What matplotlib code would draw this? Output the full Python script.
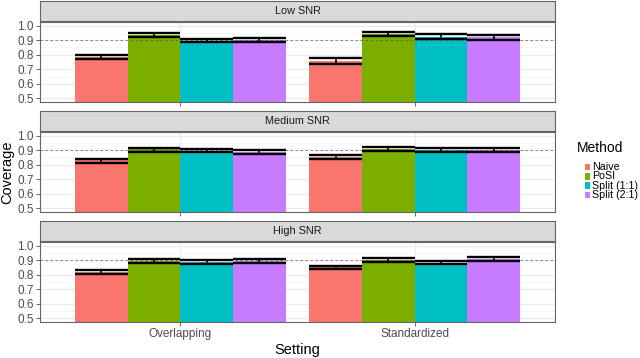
import matplotlib
matplotlib.use("Agg")
import matplotlib.pyplot as plt
import numpy as np
from matplotlib.patches import Rectangle

plt.rcParams['font.family'] = ['Liberation Sans', 'DejaVu Sans']

settings = ["Overlapping", "Standardized"]
methods = ["Naive", "PoSI", "Split (1:1)", "Split (2:1)"]
colors = ["#F8766D", "#7CAE00", "#00BFC4", "#C77CFF"]
panels = ["Low SNR", "Medium SNR", "High SNR"]

# coverage [panel][setting][method]
low_cov = [[0.785, 0.935, 0.897, 0.900], [0.755, 0.940, 0.923, 0.919]]
low_lo = [[0.773, 0.921, 0.887, 0.887], [0.736, 0.926, 0.905, 0.901]]
low_hi = [[0.797, 0.946, 0.908, 0.914], [0.775, 0.953, 0.941, 0.937]]

med_cov = [[0.830, 0.905, 0.897, 0.890], [0.853, 0.910, 0.900, 0.898]]
med_lo = [[0.815, 0.890, 0.885, 0.876], [0.838, 0.894, 0.887, 0.885]]
med_hi = [[0.842, 0.917, 0.910, 0.903], [0.869, 0.923, 0.914, 0.912]]

high_cov = [[0.818, 0.895, 0.888, 0.895], [0.850, 0.900, 0.884, 0.910]]
high_lo = [[0.804, 0.883, 0.876, 0.883], [0.836, 0.887, 0.872, 0.896]]
high_hi = [[0.831, 0.905, 0.899, 0.905], [0.863, 0.914, 0.896, 0.923]]

cov_all = [low_cov, med_cov, high_cov]
lo_all = [low_lo, med_lo, high_lo]
hi_all = [low_hi, med_hi, high_hi]

yticks = [0.5, 0.6, 0.7, 0.8, 0.9, 1.0]

W, H = 640, 358
fig = plt.figure(figsize=(W / 100, H / 100), dpi=100)

def fr(x0, y0, x1, y1):
    return [x0 / W, (H - y1) / H, (x1 - x0) / W, (y1 - y0) / H]

px0, px1 = 40, 555
strip_rows = [(1, 21), (111, 131), (221, 241)]
panel_rows = [(22, 102), (132, 212), (242, 322)]

bw = 0.225
border = "#666666"
for p in range(3):
    s0, s1 = strip_rows[p]
    sax = fig.add_axes(fr(px0, s0, px1, s1))
    sax.set_facecolor("#D9D9D9")
    sax.set_xticks([]); sax.set_yticks([])
    for sp in sax.spines.values():
        sp.set_color(border); sp.set_linewidth(0.8)
    sax.text(0.5, 0.5, panels[p], ha="center", va="center", fontsize=7.8,
             color="#1A1A1A", transform=sax.transAxes)

    a0, a1 = panel_rows[p]
    ax = fig.add_axes(fr(px0, a0, px1, a1))
    ax.set_xlim(0.4, 2.6)
    ax.set_ylim(0.475, 1.025)
    ax.set_yticks(yticks)
    ax.set_yticklabels([f"{v:.1f}" for v in yticks])
    ax.set_yticks(np.arange(0.55, 1.0, 0.1), minor=True)
    ax.grid(True, which="major", color="#EBEBEB", lw=0.9, zorder=0)
    ax.grid(True, which="minor", axis="y", color="#F3F3F3", lw=0.5, zorder=0)
    ax.set_axisbelow(True)
    ax.set_xticks([1, 2])
    if p == 2:
        ax.set_xticklabels(settings)
    else:
        ax.set_xticklabels([])
        ax.tick_params(axis="x", length=0)
    ax.tick_params(axis="both", which="major", labelsize=8.5, colors="#4D4D4D",
                   length=3, width=0.6, pad=1.5)
    ax.tick_params(axis="y", which="minor", length=0)
    for sp in ax.spines.values():
        sp.set_color(border); sp.set_linewidth(0.8)
    for s in range(2):
        for m in range(4):
            xc = (s + 1) + (m - 1.5) * bw
            ax.bar(xc, cov_all[p][s][m], width=bw, bottom=0, color=colors[m],
                   zorder=2)
    ax.axhline(0.9, color="#555555", lw=0.6, ls=(0, (3, 3)), zorder=3, alpha=0.8)
    for s in range(2):
        for m in range(4):
            xc = (s + 1) + (m - 1.5) * bw
            lo = lo_all[p][s][m]; hi = hi_all[p][s][m]
            ax.hlines([lo, hi], xc - bw / 2, xc + bw / 2, color="black", lw=1.7, zorder=4)
            ax.vlines(xc, lo, hi, color="black", lw=1.2, zorder=4)
    if p == 1:
        ax.set_ylabel("Coverage", fontsize=10.5, labelpad=2)

fig.text(297 / W, 1 - 350 / H, "Setting", ha="center", va="center", fontsize=10.5)

# legend
fig.text(577 / W, 1 - 148 / H, "Method", ha="left", va="center", fontsize=10)
for i, (m, c) in enumerate(zip(methods, colors)):
    yc = 167 + i * 9.3
    fig.patches.append(Rectangle((584.5 / W, 1 - (yc + 3.2) / H), 5.5 / W, 6.4 / H,
                                 transform=fig.transFigure, facecolor=c,
                                 edgecolor="none"))
    fig.text(592 / W, 1 - yc / H, m, ha="left", va="center", fontsize=7.7)

fig.savefig("out.png", dpi=100)
